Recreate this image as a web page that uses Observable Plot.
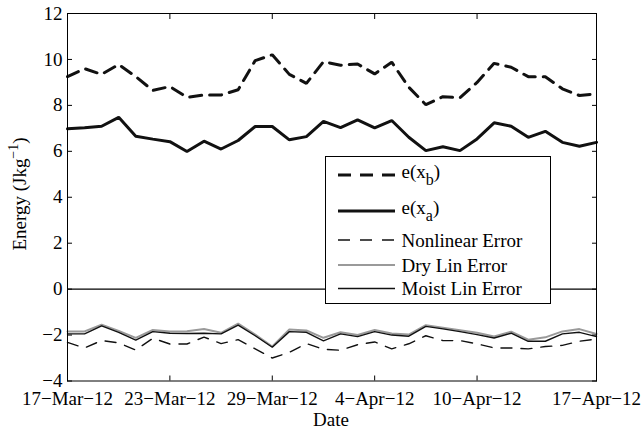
<!DOCTYPE html>
<html><head><meta charset="utf-8">
<script src="https://cdn.jsdelivr.net/npm/d3@7"></script>
<script src="https://cdn.jsdelivr.net/npm/@observablehq/plot@0.6"></script>
<style>body{margin:0;background:#fff}</style>
</head><body><div id="chart"></div>
<script>
const dates = ["2012-03-17","2012-03-18","2012-03-19","2012-03-20","2012-03-21","2012-03-22","2012-03-23","2012-03-24","2012-03-25","2012-03-26","2012-03-27","2012-03-28","2012-03-29","2012-03-30","2012-03-31","2012-04-01","2012-04-02","2012-04-03","2012-04-04","2012-04-05","2012-04-06","2012-04-07","2012-04-08","2012-04-09","2012-04-10","2012-04-11","2012-04-12","2012-04-13","2012-04-14","2012-04-15","2012-04-16","2012-04-17"];
const eXb = [9.25,9.6,9.35,9.78,9.25,8.65,8.82,8.35,8.45,8.45,8.68,9.95,10.2,9.35,8.96,9.9,9.75,9.8,9.37,9.88,8.79,8.03,8.38,8.33,9.0,9.83,9.66,9.25,9.25,8.72,8.43,8.5];
const eXa = [6.98,7.03,7.09,7.48,6.66,6.53,6.42,5.99,6.44,6.1,6.47,7.08,7.08,6.5,6.64,7.3,7.03,7.37,7.02,7.34,6.61,6.03,6.2,6.03,6.54,7.24,7.09,6.61,6.87,6.39,6.22,6.39];
const nonlinearErr = [-2.32,-2.56,-2.24,-2.34,-2.65,-2.14,-2.39,-2.39,-2.09,-2.37,-2.2,-2.6,-3.0,-2.75,-2.37,-2.62,-2.66,-2.42,-2.3,-2.6,-2.38,-2.03,-2.24,-2.24,-2.38,-2.56,-2.56,-2.6,-2.5,-2.45,-2.27,-2.17];
const dryLinErr = [-1.84,-1.84,-1.55,-1.82,-2.12,-1.78,-1.85,-1.83,-1.74,-1.9,-1.5,-1.98,-2.5,-1.76,-1.8,-2.12,-1.88,-2.0,-1.78,-1.93,-1.98,-1.57,-1.68,-1.79,-1.9,-2.06,-1.85,-2.2,-2.1,-1.84,-1.74,-1.95];
const moistLinErr = [-1.95,-1.95,-1.6,-1.88,-2.22,-1.85,-1.92,-1.93,-1.92,-1.95,-1.57,-2.03,-2.53,-1.85,-1.88,-2.25,-1.95,-2.07,-1.85,-2.0,-2.05,-1.62,-1.73,-1.85,-1.98,-2.13,-1.92,-2.27,-2.27,-1.95,-1.88,-2.07];
const tickDates = ["2012-03-17","2012-03-23","2012-03-29","2012-04-04","2012-04-10","2012-04-17"];
const tickLabels = ["17\u2212Mar\u221212","23\u2212Mar\u221212","29\u2212Mar\u221212","4\u2212Apr\u221212","10\u2212Apr\u221212","17\u2212Apr\u221212"];
const yTicks = [-4,-2,0,2,4,6,8,10,12];

const seriesDefs = [
  {name: "Dry Lin Error", values: dryLinErr, stroke: "#9a9a9a", width: 2, dash: null},
  {name: "Moist Lin Error", values: moistLinErr, stroke: "#111", width: 1.4, dash: null},
  {name: "Nonlinear Error", values: nonlinearErr, stroke: "#111", width: 1.4, dash: "11,9"},
  {name: "e(xa)", values: eXa, stroke: "#111", width: 3, dash: null},
  {name: "e(xb)", values: eXb, stroke: "#111", width: 3, dash: "12,8"}
];
const parse = s => new Date(s + "T00:00:00Z");
const xTicks = tickDates.map(parse);
const lineMarks = seriesDefs.map(s => Plot.lineY(
  s.values.map((v, i) => ({date: parse(dates[i]), value: v})),
  {x: "date", y: "value", stroke: s.stroke, strokeWidth: s.width, strokeDasharray: s.dash, strokeLinejoin: "miter"}
));

const svg = Plot.plot({
  width: 642, height: 432,
  marginLeft: 67, marginRight: 46, marginTop: 13, marginBottom: 51.5,
  style: {fontFamily: "Liberation Serif", fontSize: "19px", color: "black", background: "white"},
  x: {type: "utc", domain: [parse(dates[0]), parse(dates[dates.length - 1])]},
  y: {domain: [-4, 12]},
  marks: [
    Plot.ruleY([0], {stroke: "black", strokeWidth: 1.3}),
    ...lineMarks,
    Plot.frame({stroke: "black", strokeWidth: 1}),
    Plot.axisX(xTicks, {anchor: "bottom", tickSize: 0, tickPadding: 10.5, label: null,
      tickFormat: d => tickLabels[xTicks.findIndex(t => +t === +d)]}),
    Plot.axisX(xTicks, {anchor: "bottom", tickSize: 5, dy: -5, text: null, label: null}),
    Plot.axisX(xTicks, {anchor: "top", tickSize: 5, dy: 5, text: null, label: null}),
    Plot.axisY(yTicks, {anchor: "left", tickSize: 0, tickPadding: 5, label: null}),
    Plot.axisY(yTicks, {anchor: "left", tickSize: 5, dx: 5, text: null, label: null}),
    Plot.axisY(yTicks, {anchor: "right", tickSize: 5, dx: -5, text: null, label: null})
  ]
});

const root = d3.select(svg);
// axis titles
root.append("text").attr("x", 331).attr("y", 426).attr("text-anchor", "middle")
  .attr("font-family", "Liberation Serif").attr("font-size", 19).attr("fill", "black").text("Date");
const yl = root.append("text").attr("transform", "translate(26,194) rotate(-90)").attr("text-anchor", "middle")
  .attr("font-family", "Liberation Serif").attr("font-size", 19).attr("fill", "black");
yl.append("tspan").text("Energy (Jkg");
yl.append("tspan").attr("dy", -8).attr("font-size", 14).text("\u22121");
yl.append("tspan").attr("dy", 8).text(")");

// legend
const lg = root.append("g").attr("font-family", "Liberation Serif").attr("font-size", 19)
  .attr("fill", "black").attr("text-anchor", "start");
lg.append("rect").attr("x", 325.5).attr("y", 156.5).attr("width", 225).attr("height", 147)
  .attr("fill", "white").attr("stroke", "black").attr("stroke-width", 1);
const legendItems = [
  {y: 175, def: seriesDefs[4], main: "e(x", sub: "b", dash: "13,9"},
  {y: 211, def: seriesDefs[3], main: "e(x", sub: "a", dash: null},
  {y: 240, def: seriesDefs[2], main: "Nonlinear Error", dash: "12,10"},
  {y: 265, def: seriesDefs[0], main: "Dry Lin Error", dash: null},
  {y: 288.5, def: seriesDefs[1], main: "Moist Lin Error", dash: null}
];
legendItems.forEach(it => {
  lg.append("line").attr("x1", 338).attr("x2", 395).attr("y1", it.y).attr("y2", it.y)
    .attr("stroke", it.def.stroke).attr("stroke-width", it.def.width)
    .attr("stroke-dasharray", it.dash);
  if (it.sub) {
    const t = lg.append("text").attr("x", 401.5).attr("y", it.y + 3).attr("text-anchor", "start");
    t.append("tspan").text(it.main);
    t.append("tspan").attr("dy", 7).attr("font-size", 16).text(it.sub);
    t.append("tspan").attr("dy", -7).text(")");
  } else {
    lg.append("text").attr("x", 401.5).attr("y", it.y + 6.5).attr("text-anchor", "start").text(it.main);
  }
});

document.getElementById("chart").appendChild(svg);
</script>
</body></html>
